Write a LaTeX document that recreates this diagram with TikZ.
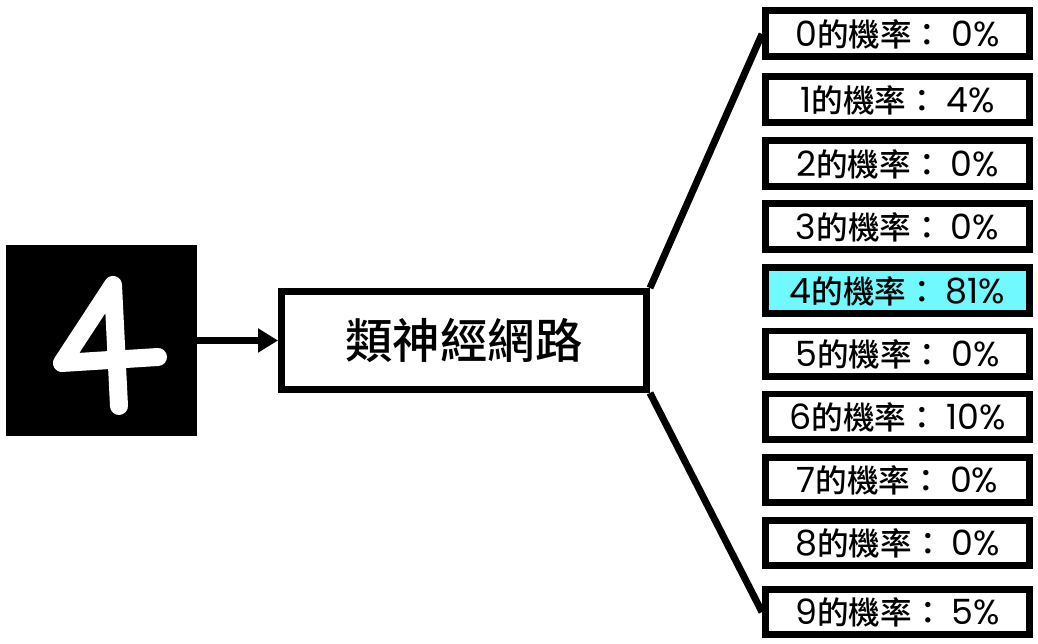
\documentclass[tikz,border=0pt]{standalone}
\usepackage{fontspec}
\setmainfont{Noto Sans CJK TC Medium}
\newfontfamily\digitfont[Scale=1.1]{Poppins}
\usetikzlibrary{arrows.meta}
\definecolor{hilite}{RGB}{112,250,255}
% one output line: digit, probability
\newcommand{\prob}[2]{{\digitfont #1}的機率：\hspace{0.25em}{\digitfont #2\%}}

\begin{document}
\begin{tikzpicture}[x=0.02cm,y=-0.02cm,
		outbox/.style={draw, line width=0.14cm, minimum width=5.28cm, minimum height=0.92cm, inner sep=0pt, font=\fontsize{18}{18}\selectfont},
		thickline/.style={line width=0.14cm}]
			\useasboundingbox (0,0) rectangle (1038,644);

			% input image
			\node [fill=black, minimum size=3.82cm, inner sep=0pt] (img) at (101.5,340.5) {};
			\draw [white, line width=0.36cm, line cap=round, line join=round] (119,406) -- (113,285) -- (62,363) -- (158,357);

			% network
			\node [draw, line width=0.14cm, minimum width=7.3cm, minimum height=1.96cm, font=\fontsize{27}{27}\selectfont] (nn) at (464,340.5) {類神經網路};
			\draw [thickline, -{Triangle[length=0.4cm, width=0.46cm]}] (img.east) -- (nn.west);

			% outputs
			\node [outbox] (out0) at (897.5,34) {\prob{0}{0}};
			\node [outbox] (out1) at (897.5,100) {\prob{1}{4}};
			\node [outbox] (out2) at (897.5,164) {\prob{2}{0}};
			\node [outbox] (out3) at (897.5,227) {\prob{3}{0}};
			\node [outbox, fill=hilite] (out4) at (897.5,291) {\prob{4}{81}};
			\node [outbox] (out5) at (897.5,354) {\prob{5}{0}};
			\node [outbox] (out6) at (897.5,417) {\prob{6}{10}};
			\node [outbox] (out7) at (897.5,480) {\prob{7}{0}};
			\node [outbox] (out8) at (897.5,543) {\prob{8}{0}};
			\node [outbox] (out9) at (897.5,612) {\prob{9}{5}};

			% fan out
			\draw [thickline] (nn.north east) -- (out0.west);
			\draw [thickline] (nn.south east) -- (out9.west);

		\end{tikzpicture}
\end{document}
